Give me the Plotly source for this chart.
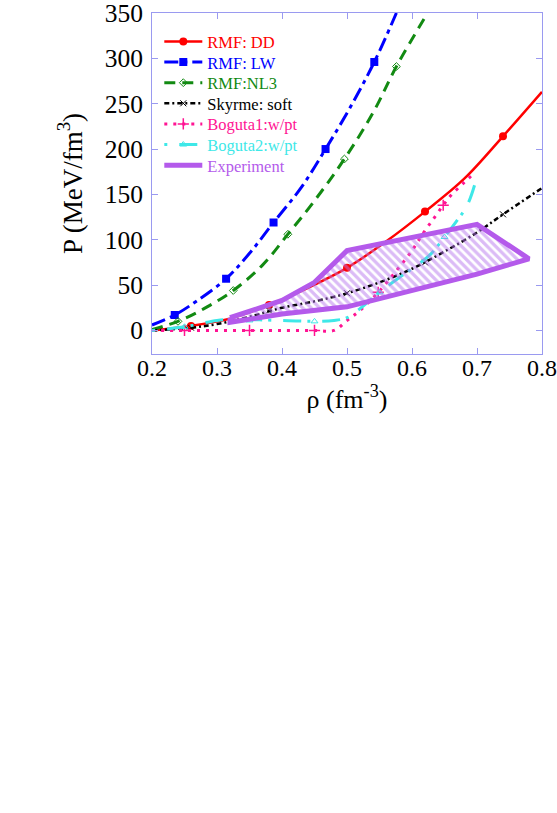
import plotly.graph_objects as go

# ---------------- data ----------------
dd_x = [0.2, 0.26, 0.32, 0.38, 0.44, 0.50, 0.56, 0.62, 0.68, 0.74, 0.80]
dd_y = [0, 5, 13, 28, 47, 69, 98, 131, 167, 214, 263]
dd_mx = [0.26, 0.38, 0.50, 0.62, 0.74]
dd_my = [5, 28, 69, 131, 214]

lw_x = [0.2, 0.235, 0.27, 0.314, 0.35, 0.387, 0.43, 0.467, 0.505, 0.542, 0.576]
lw_y = [6, 17, 33, 57, 85, 119, 158, 200, 246, 296, 350]
lw_mx = [0.235, 0.314, 0.387, 0.467, 0.542]
lw_my = [17, 57, 119, 200, 296]

nl3_x = [0.2, 0.24, 0.28, 0.325, 0.37, 0.409, 0.45, 0.496, 0.54, 0.576, 0.624]
nl3_y = [1, 10, 24, 44, 72, 106, 143, 189, 240, 291, 350]
nl3_mx = [0.24, 0.325, 0.409, 0.496, 0.576]
nl3_my = [10, 44, 106, 189, 291]

sk_x = [0.2, 0.26, 0.3, 0.35, 0.4, 0.45, 0.5, 0.55, 0.6, 0.65, 0.7, 0.74, 0.8]
sk_y = [0, 3, 7, 15, 25, 32, 41, 53, 68, 87, 108, 128, 157]
sk_mx = [0.26, 0.38, 0.50, 0.62, 0.74]
sk_my = [3, 22, 41, 75, 128]

b1_x = [0.2, 0.25, 0.3, 0.35, 0.4, 0.45, 0.48, 0.5, 0.52, 0.548, 0.575, 0.6, 0.617, 0.635, 0.648, 0.66, 0.68, 0.695]
b1_y = [0, 0, 0, 0, 0, 0, 0, 11, 22, 42, 65, 88, 107, 125, 138, 149, 163, 173]
b1_mx = [0.25, 0.35, 0.45, 0.548, 0.648]
b1_my = [0, 0, 0, 42, 138]

b2_x = [0.2, 0.25, 0.3, 0.32, 0.4, 0.45, 0.48, 0.5, 0.52, 0.55, 0.58, 0.61, 0.63, 0.65, 0.668, 0.685, 0.697]
b2_y = [0, 4, 11, 12, 11, 10, 11, 14, 24, 42, 58, 73, 85, 103, 120, 138, 162]
b2_mx = [0.25, 0.35, 0.45, 0.55, 0.65]
b2_my = [4, 11, 10, 42, 103]

exp_x = [0.32, 0.4, 0.45, 0.5, 0.7, 0.78, 0.7, 0.6, 0.5, 0.4, 0.32, 0.32]
exp_y = [14, 33, 53, 88, 117, 79, 62, 44, 26, 18, 9, 14]

x_ticks = [0.2, 0.3, 0.4, 0.5, 0.6, 0.7, 0.8]
y_ticks = [0, 50, 100, 150, 200, 250, 300, 350]

# ---------------- styles ----------------
RED = "#ff0000"
BLUE = "#0000ff"
GREEN = "#128a12"
BLACK = "#000000"
PINK = "#ff1493"
CYAN = "#3ee8e8"
PURPLE = "#b45aeb"
HATCH = "#b878ee"
FRAME = "#9a9af0"
FONT = "Liberation Serif"

series = [
    dict(name="RMF: DD", x=dd_x, y=dd_y, mx=dd_mx, my=dd_my, color=RED, dash="solid", width=2.5,
         symbol="circle", msize=8, mline=0),
    dict(name="RMF: LW", x=lw_x, y=lw_y, mx=lw_mx, my=lw_my, color=BLUE, dash="14px,5px,4px,5px", width=3,
         symbol="square", msize=8, mline=0),
    dict(name="RMF:NL3", x=nl3_x, y=nl3_y, mx=nl3_mx, my=nl3_my, color=GREEN, dash="11px,7px", width=3,
         symbol="diamond-open", msize=6, mline=1),
    dict(name="Skyrme: soft", x=sk_x, y=sk_y, mx=sk_mx, my=sk_my, color=BLACK, dash="5px,3px,2px,3px", width=2.5,
         symbol="x-thin", msize=6, mline=1),
    dict(name="Boguta1:w/pt", x=b1_x, y=b1_y, mx=b1_mx, my=b1_my, color=PINK, dash="3px,6px", width=3,
         symbol="cross-thin", msize=8, mline=1.5),
    dict(name="Boguta2:w/pt", x=b2_x, y=b2_y, mx=b2_mx, my=b2_my, color=CYAN, dash="3px,12px,18px,6px", width=3,
         symbol="triangle-up-open", msize=6, mline=1),
]

fig = go.Figure()

for s in series:
    fig.add_trace(go.Scatter(
        x=s["x"], y=s["y"], mode="lines", line=dict(color=s["color"], width=s["width"], dash=s["dash"], shape="spline"),
        showlegend=False, hoverinfo="skip"))
    fig.add_trace(go.Scatter(
        x=s["mx"], y=s["my"], mode="markers",
        marker=dict(symbol=s["symbol"], size=s["msize"], color=s["color"], line=dict(color=s["color"], width=s["mline"])),
        showlegend=False, hoverinfo="skip"))

# experiment band (hatched) drawn on top
fig.add_trace(go.Scatter(
    x=exp_x, y=exp_y, mode="lines", fill="toself", fillcolor="rgba(0,0,0,0)",
    fillpattern=dict(shape="\\", fgcolor=HATCH, size=6, solidity=0.55),
    line=dict(color=PURPLE, width=5), showlegend=False, hoverinfo="skip"))

# legend entries (one legend per row for precise spacing)
legend_rows = []
for i, s in enumerate(series):
    legend_rows.append((s["name"], s["color"], dict(color=s["color"], width=s["width"], dash=s["dash"]),
                        dict(symbol=s["symbol"], size=s["msize"], color=s["color"], line=dict(color=s["color"], width=s["mline"])),
                        "lines+markers"))
legend_rows.append(("Experiment", PURPLE, dict(color=PURPLE, width=5), None, "lines"))

row_y0 = 42.0
row_dy = 20.6
plot_top = 13.3
plot_h = 340.7
plot_left = 151.7
plot_w = 390.0
layout_legends = {}
for i, (name, col, ln, mk, mode) in enumerate(legend_rows):
    key = "legend" if i == 0 else f"legend{i+1}"
    kw = dict(x=[None], y=[None], mode=mode, line=ln, name=f'<span style="color:{col}">{name}</span>',
              legend=key, showlegend=True, hoverinfo="skip")
    if mk is not None:
        kw["marker"] = mk
    fig.add_trace(go.Scatter(**kw))
    ypx = row_y0 + i * row_dy
    layout_legends[key] = dict(
        x=(159.0 - plot_left) / plot_w, xanchor="left",
        y=1 - (ypx - plot_top) / plot_h, yanchor="middle",
        bgcolor="rgba(0,0,0,0)", borderwidth=0, itemwidth=38,
        font=dict(family=FONT, size=16.5, color=col),
        tracegroupgap=0,
    )

fig.update_layout(
    width=557, height=813,
    margin=dict(l=plot_left, r=557 - plot_left - plot_w, t=plot_top, b=813 - plot_top - plot_h, autoexpand=False),
    paper_bgcolor="white", plot_bgcolor="white",
    font=dict(family=FONT, size=22, color="black"),
    **layout_legends,
)

fig.update_xaxes(
    range=[0.2, 0.8], tickvals=x_ticks, ticktext=[f"{v:.1f}" for v in x_ticks],
    showgrid=False, zeroline=False, showline=True, linecolor=FRAME, linewidth=1, mirror="ticks",
    ticks="inside", ticklen=6, tickcolor=FRAME, tickfont=dict(family=FONT, size=24, color="black"),
    ticklabelstandoff=-8, ticklabeloverflow="allow",
    title=dict(text="ρ (fm<sup>-3</sup>)", font=dict(family=FONT, size=26, color="black"), standoff=0),
)
fig.update_yaxes(
    range=[-26, 350], tickvals=y_ticks, ticktext=[str(v) for v in y_ticks],
    showgrid=False, zeroline=False, showline=True, linecolor=FRAME, linewidth=1, mirror="ticks",
    ticks="inside", ticklen=6, tickcolor=FRAME, tickfont=dict(family=FONT, size=25.5, color="black"),
    ticklabelstandoff=3, ticklabeloverflow="allow",
    title=dict(text="P (MeV/fm<sup>3</sup>)", font=dict(family=FONT, size=27, color="black"), standoff=14),
)

fig.write_html("out.html", config={"displayModeBar": False},
               post_script="document.body.style.margin='0px';document.body.style.overflow='hidden';")
